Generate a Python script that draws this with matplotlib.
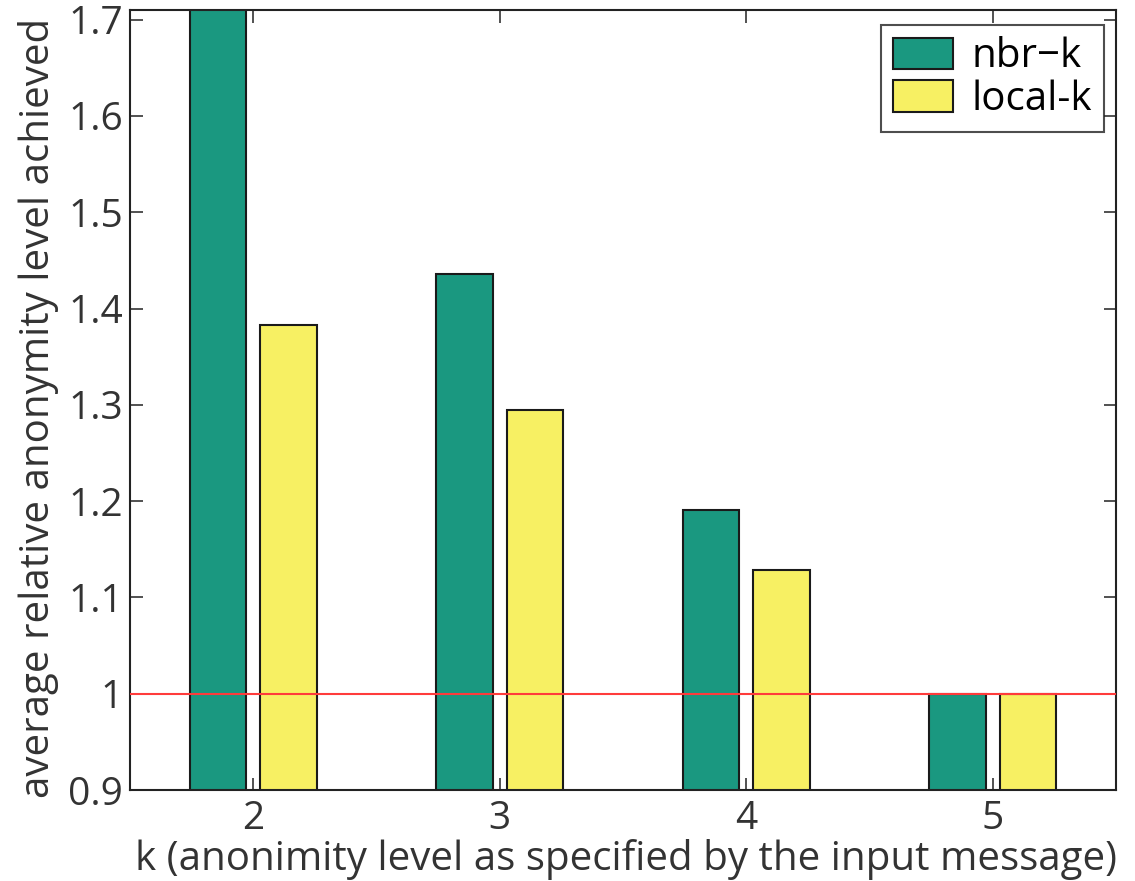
import numpy as np
import matplotlib.pyplot as plt

k_values = [2, 3, 4, 5]
nbr_k = [1.78, 1.436, 1.191, 1.0]
local_k = [1.383, 1.295, 1.128, 1.0]
y_ticks = [0.9, 1.0, 1.1, 1.2, 1.3, 1.4, 1.5, 1.6, 1.7]
y_tick_labels = ["0.9", "1", "1.1", "1.2", "1.3", "1.4", "1.5", "1.6", "1.7"]

plt.rcParams['font.family'] = ['Open Sans', 'DejaVu Sans']

fig = plt.figure(figsize=(11.35, 8.81), dpi=100)
ax = fig.add_axes([130 / 1135, 91 / 881, 986 / 1135, 780 / 881])

x = np.array(k_values)
width = 0.229
ax.bar(x - 0.143, nbr_k, width, color='#1a9880', edgecolor='#1a1a1a', linewidth=1.5, label='nbr\u2212k', zorder=2)
ax.bar(x + 0.143, local_k, width, color='#f7f063', edgecolor='#1a1a1a', linewidth=1.5, label='local-k', zorder=2)
ax.axhline(1.0, color='#ff3b3b', linewidth=1.5, zorder=3)

ax.set_xlim(1.5, 5.5)
ax.set_ylim(0.9, 1.71)
ax.set_xticks(k_values)
ax.set_yticks(y_ticks)
ax.set_yticklabels(y_tick_labels)
ax.tick_params(direction='in', top=True, right=True, labelsize=28, length=9, width=1.2, colors='#333333')
ax.tick_params(axis='x', pad=7)
ax.tick_params(axis='y', pad=5)
for s in ax.spines.values():
    s.set_linewidth(1.5)
    s.set_color('#222222')

ax.set_xlabel("k (anonimity level as specified by the input message)", fontsize=29, color='#333333', va='baseline')
ax.xaxis.set_label_coords(0.503, -0.1026)
ax.set_ylabel("average relative anonymity level achieved", fontsize=29, color='#333333')
ax.yaxis.set_label_coords(-0.072, 0.49)

leg = ax.legend(loc='upper right', fontsize=29, frameon=True, fancybox=False, edgecolor='#222222',
                handlelength=1.5, handleheight=0.83, borderpad=0.3, labelspacing=0.05, handletextpad=0.45,
                borderaxespad=0, bbox_to_anchor=(0.988, 0.981))
leg.get_frame().set_linewidth(1.5)

plt.savefig('out.png', dpi=100)
